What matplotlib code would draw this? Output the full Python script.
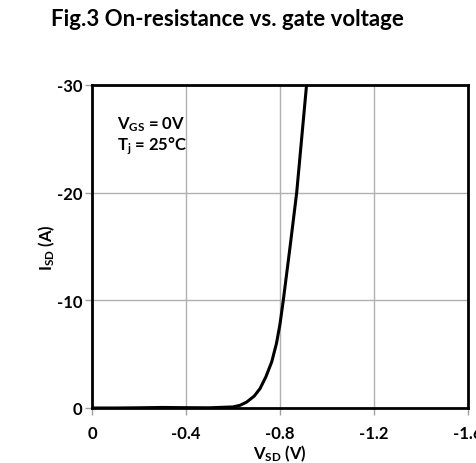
import matplotlib
matplotlib.use("Agg")
import matplotlib.pyplot as plt

plt.rcParams['font.family'] = ['Lato', 'DejaVu Sans']
plt.rcParams['mathtext.fontset'] = 'custom'
plt.rcParams['mathtext.rm'] = 'Lato:bold'
plt.rcParams['mathtext.it'] = 'Lato:bold'
plt.rcParams['mathtext.bf'] = 'Lato:bold'

# Data
v_sd = [0, -0.1, -0.2, -0.3, -0.4, -0.5, -0.6, -0.63, -0.658, -0.69, -0.715, -0.74,
        -0.765, -0.785, -0.8, -0.814, -0.843, -0.871, -0.892, -0.913]
i_sd = [0, 0, -0.02, -0.05, -0.03, -0.02, -0.1, -0.25, -0.55, -1.1, -1.8, -2.9,
        -4.3, -6.0, -7.8, -10, -15, -20, -25, -30]

x_ticks = [0, -0.4, -0.8, -1.2, -1.6]
x_ticklabels = ["0", "-0.4", "-0.8", "-1.2", "-1.6"]
y_ticks = [0, -10, -20, -30]
y_ticklabels = ["0", "-10", "-20", "-30"]

fig = plt.figure(figsize=(4.77, 4.64), dpi=100)
ax = fig.add_axes([92/477, 1-409/464, (468-92)/477, (409-86)/464])

ax.plot(v_sd, i_sd, color='black', linewidth=2.2, solid_capstyle='round', zorder=3)

ax.set_xlim(0, -1.6)
ax.set_ylim(0, -30)
ax.set_xticks(x_ticks)
ax.set_xticklabels(x_ticklabels)
ax.set_yticks(y_ticks)
ax.set_yticklabels(y_ticklabels)
ax.grid(True, color='#b0b0b0', linewidth=1)
ax.set_axisbelow(True)

for s in ax.spines.values():
    s.set_color('black')
    s.set_linewidth(2)

ax.tick_params(axis='both', direction='out', length=5, width=1, color='#a0a0a0',
               labelsize=12)
ax.tick_params(axis='x', pad=7)
ax.tick_params(axis='y', pad=2)
for lab in ax.get_xticklabels() + ax.get_yticklabels():
    lab.set_fontweight('bold')

ax.set_xlabel(r'$\mathrm{V_{SD}}$ (V)', fontsize=12, fontweight='bold', labelpad=1)
ax.set_ylabel(r'$\mathrm{I_{SD}}$ (A)', fontsize=12, fontweight='bold', labelpad=0)

ax.text(0.066, 0.88, r'$\mathrm{V_{GS}}$ = 0V', transform=ax.transAxes,
        fontsize=12, fontweight='bold', ha='left', va='center')
ax.text(0.066, 0.815, r'$\mathrm{T_{j}}$ = 25°C', transform=ax.transAxes,
        fontsize=12, fontweight='bold', ha='left', va='center')

fig.text(227/477, 1-20/464, 'Fig.3 On-resistance vs. gate voltage', fontsize=16,
         fontweight='bold', ha='center', va='center')

fig.savefig('out.png', dpi=100)
